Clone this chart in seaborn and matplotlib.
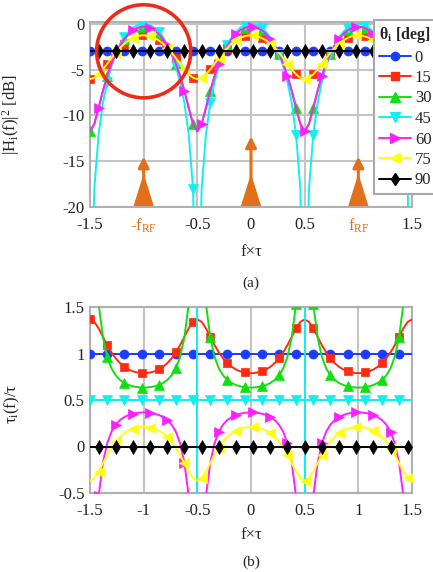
import numpy as np
import pandas as pd
import matplotlib
matplotlib.use("Agg")
import matplotlib.pyplot as plt
import seaborn as sns
from matplotlib.patches import Ellipse
from matplotlib.lines import Line2D

# ---------------- data ----------------
f_tau = np.linspace(-1.5, 1.5, 76)          # sample positions, step 0.04
theta_deg = [0, 15, 30, 45, 60, 75, 90]

# panel (a): |H_i(f)|^2 in dB
db_0 = [-3.01] * 76
db_15 = [-6.02, -5.89, -5.51, -4.98, -4.36, -3.74, -3.15, -2.62, -2.17, -1.81, -1.54, -1.35, -1.26,
         -1.26, -1.35, -1.54, -1.81, -2.17, -2.62, -3.15, -3.74, -4.36, -4.98, -5.51, -5.89,
         -6.02, -5.89, -5.51, -4.98, -4.36, -3.74, -3.15, -2.62, -2.17, -1.81, -1.54, -1.35, -1.26,
         -1.26, -1.35, -1.54, -1.81, -2.17, -2.62, -3.15, -3.74, -4.36, -4.98, -5.51, -5.89,
         -6.02, -5.89, -5.51, -4.98, -4.36, -3.74, -3.15, -2.62, -2.17, -1.81, -1.54, -1.35, -1.26,
         -1.26, -1.35, -1.54, -1.81, -2.17, -2.62, -3.15, -3.74, -4.36, -4.98, -5.51, -5.89,
         -6.02]
db_30 = [-11.74, -10.94, -9.19, -7.34, -5.72, -4.36, -3.25, -2.36, -1.65, -1.10, -0.70, -0.45, -0.32,
         -0.32, -0.45, -0.70, -1.10, -1.65, -2.36, -3.25, -4.36, -5.72, -7.34, -9.19, -10.94,
         -11.74, -10.94, -9.19, -7.34, -5.72, -4.36, -3.25, -2.36, -1.65, -1.10, -0.70, -0.45, -0.32,
         -0.32, -0.45, -0.70, -1.10, -1.65, -2.36, -3.25, -4.36, -5.72, -7.34, -9.19, -10.94,
         -11.74, -10.94, -9.19, -7.34, -5.72, -4.36, -3.25, -2.36, -1.65, -1.10, -0.70, -0.45, -0.32,
         -0.32, -0.45, -0.70, -1.10, -1.65, -2.36, -3.25, -4.36, -5.72, -7.34, -9.19, -10.94,
         -11.74]
db_45 = [-40.0, -18.04, -12.09, -8.68, -6.34, -4.62, -3.29, -2.26, -1.47, -0.87, -0.44, -0.16, -0.02,
         -0.02, -0.16, -0.44, -0.87, -1.47, -2.26, -3.29, -4.62, -6.34, -8.68, -12.09, -18.04,
         -40.0, -18.04, -12.09, -8.68, -6.34, -4.62, -3.29, -2.26, -1.47, -0.87, -0.44, -0.16, -0.02,
         -0.02, -0.16, -0.44, -0.87, -1.47, -2.26, -3.29, -4.62, -6.34, -8.68, -12.09, -18.04,
         -40.0, -18.04, -12.09, -8.68, -6.34, -4.62, -3.29, -2.26, -1.47, -0.87, -0.44, -0.16, -0.02,
         -0.02, -0.16, -0.44, -0.87, -1.47, -2.26, -3.29, -4.62, -6.34, -8.68, -12.09, -18.04,
         -40.0]
db_60 = [-11.74, -10.94, -9.19, -7.34, -5.72, -4.36, -3.25, -2.36, -1.65, -1.10, -0.70, -0.45, -0.32,
         -0.32, -0.45, -0.70, -1.10, -1.65, -2.36, -3.25, -4.36, -5.72, -7.34, -9.19, -10.94,
         -11.74, -10.94, -9.19, -7.34, -5.72, -4.36, -3.25, -2.36, -1.65, -1.10, -0.70, -0.45, -0.32,
         -0.32, -0.45, -0.70, -1.10, -1.65, -2.36, -3.25, -4.36, -5.72, -7.34, -9.19, -10.94,
         -11.74, -10.94, -9.19, -7.34, -5.72, -4.36, -3.25, -2.36, -1.65, -1.10, -0.70, -0.45, -0.32,
         -0.32, -0.45, -0.70, -1.10, -1.65, -2.36, -3.25, -4.36, -5.72, -7.34, -9.19, -10.94,
         -11.74]
db_75 = [-6.02, -5.89, -5.51, -4.98, -4.36, -3.74, -3.15, -2.62, -2.17, -1.81, -1.54, -1.35, -1.26,
         -1.26, -1.35, -1.54, -1.81, -2.17, -2.62, -3.15, -3.74, -4.36, -4.98, -5.51, -5.89,
         -6.02, -5.89, -5.51, -4.98, -4.36, -3.74, -3.15, -2.62, -2.17, -1.81, -1.54, -1.35, -1.26,
         -1.26, -1.35, -1.54, -1.81, -2.17, -2.62, -3.15, -3.74, -4.36, -4.98, -5.51, -5.89,
         -6.02, -5.89, -5.51, -4.98, -4.36, -3.74, -3.15, -2.62, -2.17, -1.81, -1.54, -1.35, -1.26,
         -1.26, -1.35, -1.54, -1.81, -2.17, -2.62, -3.15, -3.74, -4.36, -4.98, -5.51, -5.89,
         -6.02]
db_90 = [-3.01] * 76

# panel (b): normalised group delay tau_i(f)/tau
tau_0 = [1.0] * 76
tau_15 = [1.366, 1.340, 1.271, 1.181, 1.091, 1.012, 0.947, 0.896, 0.857, 0.828, 0.808, 0.796, 0.789,
          0.789, 0.796, 0.808, 0.828, 0.857, 0.896, 0.947, 1.012, 1.091, 1.181, 1.271, 1.340,
          1.366, 1.340, 1.271, 1.181, 1.091, 1.012, 0.947, 0.896, 0.857, 0.828, 0.808, 0.796, 0.789,
          0.789, 0.796, 0.808, 0.828, 0.857, 0.896, 0.947, 1.012, 1.091, 1.181, 1.271, 1.340,
          1.366, 1.340, 1.271, 1.181, 1.091, 1.012, 0.947, 0.896, 0.857, 0.828, 0.808, 0.796, 0.789,
          0.789, 0.796, 0.808, 0.828, 0.857, 0.896, 0.947, 1.012, 1.091, 1.181, 1.271, 1.340,
          1.366]
tau_30 = [2.366, 2.051, 1.537, 1.178, 0.966, 0.841, 0.764, 0.715, 0.683, 0.661, 0.647, 0.638, 0.634,
          0.634, 0.638, 0.647, 0.661, 0.683, 0.715, 0.764, 0.841, 0.966, 1.178, 1.537, 2.051,
          2.366, 2.051, 1.537, 1.178, 0.966, 0.841, 0.764, 0.715, 0.683, 0.661, 0.647, 0.638, 0.634,
          0.634, 0.638, 0.647, 0.661, 0.683, 0.715, 0.764, 0.841, 0.966, 1.178, 1.537, 2.051,
          2.366, 2.051, 1.537, 1.178, 0.966, 0.841, 0.764, 0.715, 0.683, 0.661, 0.647, 0.638, 0.634,
          0.634, 0.638, 0.647, 0.661, 0.683, 0.715, 0.764, 0.841, 0.966, 1.178, 1.537, 2.051,
          2.366]
tau_45 = [0.5] * 76
tau_45_singular_f = [-0.5, 0.5]
tau_60 = [-1.366, -1.051, -0.537, -0.178, 0.034, 0.159, 0.236, 0.285, 0.317, 0.339, 0.353, 0.362, 0.366,
          0.366, 0.362, 0.353, 0.339, 0.317, 0.285, 0.236, 0.159, 0.034, -0.178, -0.537, -1.051,
          -1.366, -1.051, -0.537, -0.178, 0.034, 0.159, 0.236, 0.285, 0.317, 0.339, 0.353, 0.362, 0.366,
          0.366, 0.362, 0.353, 0.339, 0.317, 0.285, 0.236, 0.159, 0.034, -0.178, -0.537, -1.051,
          -1.366, -1.051, -0.537, -0.178, 0.034, 0.159, 0.236, 0.285, 0.317, 0.339, 0.353, 0.362, 0.366,
          0.366, 0.362, 0.353, 0.339, 0.317, 0.285, 0.236, 0.159, 0.034, -0.178, -0.537, -1.051,
          -1.366]
tau_75 = [-0.366, -0.340, -0.271, -0.181, -0.091, -0.012, 0.053, 0.104, 0.143, 0.172, 0.192, 0.204, 0.211,
          0.211, 0.204, 0.192, 0.172, 0.143, 0.104, 0.053, -0.012, -0.091, -0.181, -0.271, -0.340,
          -0.366, -0.340, -0.271, -0.181, -0.091, -0.012, 0.053, 0.104, 0.143, 0.172, 0.192, 0.204, 0.211,
          0.211, 0.204, 0.192, 0.172, 0.143, 0.104, 0.053, -0.012, -0.091, -0.181, -0.271, -0.340,
          -0.366, -0.340, -0.271, -0.181, -0.091, -0.012, 0.053, 0.104, 0.143, 0.172, 0.192, 0.204, 0.211,
          0.211, 0.204, 0.192, 0.172, 0.143, 0.104, 0.053, -0.012, -0.091, -0.181, -0.271, -0.340,
          -0.366]
tau_90 = [0.0] * 76

# RF carrier arrows in panel (a)
rf_f = [-1.0, 0.0, 1.0]
rf_tip_db = [-14.5, -12.3, -14.5]

# ticks
xticks = [-1.5, -1.0, -0.5, 0.0, 0.5, 1.0, 1.5]
xticklabels_a = ["-1.5", "-f$_{\\mathrm{RF}}$", "-0.5", "0", "0.5", "f$_{\\mathrm{RF}}$", "1.5"]
xticklabels_b = ["-1.5", "-1", "-0.5", "0", "0.5", "1", "1.5"]
yticks_a = [0, -5, -10, -15, -20]
yticks_b = [1.5, 1.0, 0.5, 0.0, -0.5]
yticklabels_b = ["1.5", "1", "0.5", "0", "-0.5"]

# ---------------- style ----------------
sns.set_theme(style="white")
plt.rcParams["font.family"] = ["Liberation Serif", "DejaVu Serif"]
plt.rcParams["mathtext.fontset"] = "custom"
plt.rcParams["mathtext.rm"] = "Liberation Serif"
plt.rcParams["mathtext.it"] = "Liberation Serif:italic"
plt.rcParams["mathtext.bf"] = "Liberation Serif:bold"

colors = ["#1a3cff", "#ff2a10", "#10e010", "#10f0f0", "#ff20ff", "#ffff10", "#000000"]
markers = ["o", "s", "^", "v", ">", "<", "d"]
msizes = [6.5, 6.0, 7.0, 7.0, 7.0, 7.0, 7.0]
mark_start = [0, 0, 0, 0, 2, 2, 2]
ORANGE = "#e2701a"
GRID = "#c4c4c4"

W, H = 433, 572
fig = plt.figure(figsize=(W / 100, H / 100), dpi=100)


def px_axes(l, t, r, b):
    return fig.add_axes([l / W, 1 - b / H, (r - l) / W, (b - t) / H])


ax_a = px_axes(90, 22, 412, 207)
ax_b = px_axes(90, 307, 412, 493)

series_a = [db_0, db_15, db_30, db_45, db_60, db_75, db_90]
series_b = [tau_0, tau_15, tau_30, tau_45, tau_60, tau_75, tau_90]

for ax, series in ((ax_a, series_a), (ax_b, series_b)):
    for i, (th, vals) in enumerate(zip(theta_deg, series)):
        df = pd.DataFrame({"f": f_tau, "v": vals})
        sns.lineplot(data=df, x="f", y="v", ax=ax, color=colors[i], lw=1.4,
                     marker=markers[i], markersize=msizes[i], markeredgecolor=colors[i],
                     markeredgewidth=0.5, markevery=(mark_start[i], 4),
                     estimator=None, sort=False, zorder=3 + i)

# cyan singular lines in (b)
ax_b.vlines(tau_45_singular_f, -0.5, 1.5, color=colors[3], lw=1.4, zorder=6)

for ax in (ax_a, ax_b):
    ax.set_xlim(-1.5, 1.5)
    ax.set_xticks(xticks)
    ax.grid(True, color=GRID, lw=1.5)
    ax.set_axisbelow(True)
    for s in ax.spines.values():
        s.set_color("#b0b0b0")
        s.set_linewidth(1.5)
    ax.tick_params(length=0, labelsize=12, colors="#222222")
    ax.tick_params(axis="x", pad=7)
    ax.tick_params(axis="y", pad=4)
    ax.set_xlabel("")
    ax.set_ylabel("")

ax_a.set_ylim(-20, 0.2)
ax_a.set_yticks(yticks_a)
ax_a.set_yticklabels([str(v) for v in yticks_a])
ax_a.set_xticklabels(xticklabels_a)
for lab, txt in zip(ax_a.get_xticklabels(), xticklabels_a):
    if "RF" in txt:
        lab.set_color(ORANGE)

ax_b.set_ylim(-0.5, 1.5)
ax_b.set_yticks(yticks_b)
ax_b.set_yticklabels(yticklabels_b)
ax_b.set_xticklabels(xticklabels_b)

# RF arrows
for fx, tip in zip(rf_f, rf_tip_db):
    ax_a.fill([fx - 0.09, fx, fx + 0.09], [-20, -16.6, -20], color=ORANGE, zorder=2,
              clip_on=False)
    ax_a.annotate("", xy=(fx, tip), xytext=(fx, -17.5),
                  arrowprops=dict(arrowstyle="-|>", color=ORANGE, lw=2.2,
                                  mutation_scale=16, shrinkA=0, shrinkB=0), zorder=2)

# red highlight circle around -f_RF peak
circ = Ellipse((-1.0, -3.0), 94 / 107.3, 94 / 9.25, fill=False, edgecolor="#ee2a1a",
               lw=2.6, zorder=12, clip_on=False)
ax_a.add_patch(circ)

# axis labels
ax_a.set_ylabel("|H$_{\\mathrm{i}}$(f)|$^{2}$ [dB]", fontsize=12)
ax_a.yaxis.set_label_coords((22 - 90) / 322, 0.5)
ax_b.set_ylabel("τ$_{\\mathrm{i}}$(f)/τ", fontsize=12)
ax_b.yaxis.set_label_coords((22 - 90) / 322, 0.48)

fig.text(251 / W, 1 - 252 / H, "f×τ", ha="center", va="center", fontsize=12)
fig.text(251 / W, 1 - 283 / H, "(a)", ha="center", va="center", fontsize=11)
fig.text(251 / W, 1 - 535 / H, "f×τ", ha="center", va="center", fontsize=12)
fig.text(251 / W, 1 - 562 / H, "(b)", ha="center", va="center", fontsize=11)

# legend
handles = [Line2D([0], [0], color=colors[i], lw=1.4, marker=markers[i], markersize=msizes[i] - 0.5,
                  markeredgecolor=colors[i]) for i in range(7)]
leg = ax_a.legend(handles, [str(t) for t in theta_deg], title="θ$_{\\mathbf{i}}$ [deg]",
                  loc="upper left", bbox_to_anchor=(374 / W, 1 - 20 / H),
                  bbox_transform=fig.transFigure, fontsize=12, frameon=True, fancybox=False,
                  framealpha=1, edgecolor="#a8a8a8", handlelength=1.9, handletextpad=0.25,
                  labelspacing=0.27, borderpad=0.3, borderaxespad=0)
leg.get_title().set_fontweight("bold")
leg.get_title().set_fontsize(11.5)
leg._legend_box.align = "left"
leg.get_frame().set_linewidth(1.5)
leg.set_zorder(20)

fig.savefig("out.png", dpi=100)
